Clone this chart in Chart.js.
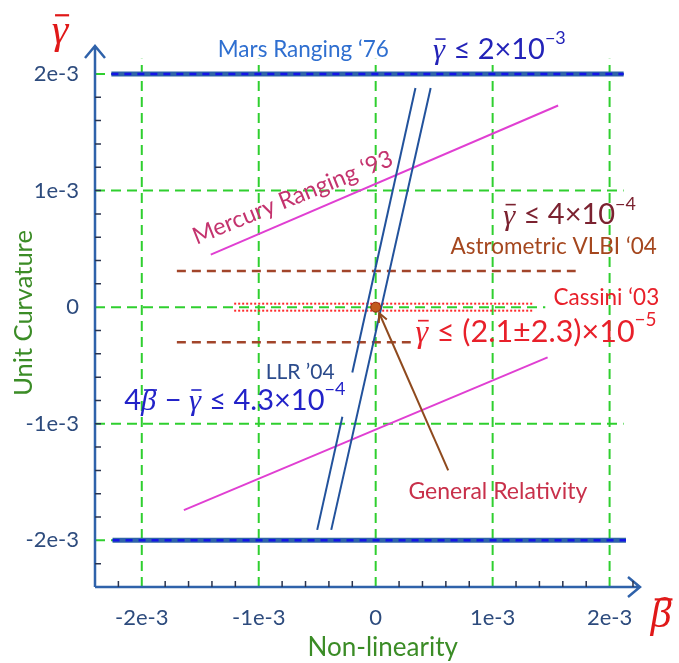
<!DOCTYPE html>
<html>
<head>
<meta charset="utf-8">
<script src="https://cdn.jsdelivr.net/npm/chart.js@4.4.1/dist/chart.umd.min.js"></script>
<style>
  html, body { margin: 0; padding: 0; background: #fff; }
  canvas { display: block; }
</style>
</head>
<body>
<canvas id="chart" width="679" height="663"></canvas>
<script>
// ── Data (all values in units of 1e-3) ────────────────────
const AXIS_TICKS   = [-2, -1, 0, 1, 2];
const TICK_LABELS  = ['-2e-3', '-1e-3', '0', '1e-3', '2e-3'];
const MINOR_X      = [-2.2, -1.8, -1.6, -1.4, -1.2, -0.8, -0.6, -0.4, -0.2, 0.2, 0.4, 0.6, 0.8, 1.2, 1.4, 1.6, 1.8, 2.2];
const MINOR_Y      = [-2.2, -1.8, -1.6, -1.4, -1.2, -1, -0.8, -0.6, -0.4, -0.2, 0.2, 0.4, 0.6, 0.8, 1, 1.2, 1.4, 1.6, 1.8];

const MARS_TOP     = [[-2.26, 2], [2.12, 2]];
const MARS_BOTTOM  = [[-2.25, -2], [2.14, -2]];
const MERCURY_UP   = [[-1.41, 0.45], [1.56, 1.73]];
const MERCURY_LOW  = [[-1.64, -1.74], [1.47, -0.43]];
const LLR_LEFT_A   = [[0.34, 1.88], [-0.20, -0.56]];
const LLR_LEFT_B   = [[-0.285, -0.94], [-0.50, -1.91]];
const LLR_RIGHT    = [[0.47, 1.88], [-0.38, -1.91]];
const VLBI_UP      = [[-1.70, 0.31], [1.71, 0.31]];
const VLBI_LOW     = [[-1.70, -0.30], [0.30, -0.30]];
const CASSINI_UP   = [[-1.21, 0.03], [1.35, 0.03]];
const CASSINI_LOW  = [[-1.21, -0.03], [1.35, -0.03]];
const GR_POINT     = [[0, 0]];
const GR_ARROW     = [[0.62, -1.40], [0.03, -0.05]];

// grid segments: [value, from, to]
const GRID_H = [[2, -2.4, 2.12], [1, -2.4, 2.12], [0, -2.4, 1.45], [-1, -2.4, 2.12], [-2, -2.4, 2.12]];
const GRID_V = [[-2, -2.4, 2.13], [-1, -2.4, 2.13], [0, -2.4, 2.13], [1, -2.4, 2.13], [2, -2.4, 2.13]];

// ── Colours ───────────────────────────────────────────────
const C = {
  grid:    '#2fcf2f',
  axis:    '#2f62aa',
  tick:    '#2d4b7d',
  mars:    '#2f64a8',
  marsDot: '#1414e6',
  mercury: '#e03fd2',
  llr:     '#22529c',
  vlbi:    '#a2452a',
  cassini: '#ff2a2a',
  arrow:   '#8f4a1e',
  title:   '#3b8c26',
  symbol:  '#e01818',
};

const SANS  = 'Lato, "Open Sans", sans-serif';
const SERIF = '"Liberation Serif", "DejaVu Serif", serif';

const pts = arr => arr.map(([x, y]) => ({ x, y }));

function line(data, color, width, dash, order) {
  return {
    data: pts(data), showLine: true, borderColor: color, borderWidth: width,
    borderDash: dash || [], pointRadius: 0, fill: false, order,
  };
}

// ── Text helpers ──────────────────────────────────────────
// parts: [text, kind]  kind: n = normal, g = greek italic with bar, s = superscript
function drawMath(ctx, parts, x, y, size, color) {
  ctx.save();
  ctx.fillStyle = color;
  ctx.strokeStyle = color;
  ctx.textBaseline = 'middle';
  ctx.textAlign = 'left';
  let cx = x;
  parts.forEach(([t, k]) => {
    if (k === 'g') {
      ctx.font = `italic ${size * 1.05}px ${SERIF}`;
      const w = ctx.measureText(t).width;
      ctx.fillText(t, cx, y + size * 0.06);
      ctx.lineWidth = Math.max(1.2, size / 18);
      ctx.beginPath();
      ctx.moveTo(cx + w * 0.2, y - size * 0.36);
      ctx.lineTo(cx + w * 1.05, y - size * 0.36);
      ctx.stroke();
      cx += w + 1;
    } else if (k === 's') {
      ctx.font = `${size * 0.62}px ${SANS}`;
      ctx.fillText(t, cx, y - size * 0.38);
      cx += ctx.measureText(t).width;
    } else {
      ctx.font = `${size}px ${SANS}`;
      ctx.fillText(t, cx, y);
      cx += ctx.measureText(t).width;
    }
  });
  ctx.restore();
}

function drawText(ctx, t, x, y, size, color, opts = {}) {
  ctx.save();
  ctx.translate(x, y);
  if (opts.rot) ctx.rotate(opts.rot * Math.PI / 180);
  ctx.font = `${opts.italic ? 'italic ' : ''}${size}px ${opts.font || SANS}`;
  ctx.fillStyle = color;
  ctx.textBaseline = 'middle';
  ctx.textAlign = opts.align || 'left';
  ctx.fillText(t, 0, 0);
  ctx.restore();
}

// ── Plugin: grid, axes with arrows, annotations ───────────
const decor = {
  id: 'decor',
  beforeDatasetsDraw(chart) {
    const { ctx, scales: { x, y } } = chart;
    ctx.save();
    // green dashed grid
    ctx.strokeStyle = C.grid;
    ctx.lineWidth = 2;
    ctx.setLineDash([10, 6]);
    GRID_H.forEach(([v, a, b]) => {
      ctx.beginPath();
      ctx.moveTo(x.getPixelForValue(a), y.getPixelForValue(v));
      ctx.lineTo(x.getPixelForValue(b), y.getPixelForValue(v));
      ctx.stroke();
    });
    GRID_V.forEach(([v, a, b]) => {
      ctx.beginPath();
      ctx.moveTo(x.getPixelForValue(v), y.getPixelForValue(a));
      ctx.lineTo(x.getPixelForValue(v), y.getPixelForValue(b));
      ctx.stroke();
    });
    ctx.setLineDash([]);

    // axes
    const x0 = x.getPixelForValue(x.min), y0 = y.getPixelForValue(y.min);
    const xr = x.getPixelForValue(x.max), yt = y.getPixelForValue(y.max);
    ctx.strokeStyle = C.axis;
    ctx.lineWidth = 2.5;
    ctx.beginPath();
    ctx.moveTo(x0, y0); ctx.lineTo(xr, y0);
    ctx.moveTo(x0, y0); ctx.lineTo(x0, yt);
    // arrow heads
    ctx.moveTo(xr - 12, y0 - 10); ctx.lineTo(xr, y0); ctx.lineTo(xr - 12, y0 + 10);
    ctx.moveTo(x0 - 10, yt + 12); ctx.lineTo(x0, yt); ctx.lineTo(x0 + 10, yt + 12);
    ctx.stroke();

    // minor ticks
    ctx.strokeStyle = '#2a3550';
    ctx.lineWidth = 1.5;
    ctx.beginPath();
    MINOR_X.forEach(v => {
      const px = x.getPixelForValue(v);
      ctx.moveTo(px, y0); ctx.lineTo(px, y0 - 6);
    });
    MINOR_Y.forEach(v => {
      const py = y.getPixelForValue(v);
      ctx.moveTo(x0, py); ctx.lineTo(x0 + 6, py);
    });
    ctx.stroke();
    ctx.restore();
  },
  afterDatasetsDraw(chart) {
    const { ctx, scales: { x, y } } = chart;
    const X = v => x.getPixelForValue(v), Y = v => y.getPixelForValue(v);

    // arrow head at GR point
    const [a, b] = GR_ARROW;
    const ax = X(b[0]), ay = Y(b[1]);
    const ang = Math.atan2(ay - Y(a[1]), ax - X(a[0]));
    ctx.save();
    ctx.strokeStyle = C.arrow;
    ctx.lineWidth = 2;
    ctx.beginPath();
    ctx.moveTo(ax - 10 * Math.cos(ang - 0.45), ay - 10 * Math.sin(ang - 0.45));
    ctx.lineTo(ax, ay);
    ctx.lineTo(ax - 10 * Math.cos(ang + 0.45), ay - 10 * Math.sin(ang + 0.45));
    ctx.stroke();
    ctx.restore();

    // labels
    drawText(ctx, 'Mars Ranging \u201876', X(-1.35), Y(2.21), 22.5, '#2f6fd0');
    drawMath(ctx, [['\u03b3', 'g'], [' \u2264 2\u00d710', 'n'], ['\u22123', 's']], X(0.49), Y(2.21), 29, '#2323b8');
    drawText(ctx, 'Mercury Ranging \u201893', X(-0.71), Y(0.94), 23.5, '#c4336e', { rot: -22, align: 'center' });
    drawMath(ctx, [['\u03b3', 'g'], [' \u2264 4\u00d710', 'n'], ['\u22124', 's']], X(1.09), Y(0.79), 29, '#7b2230');
    drawText(ctx, 'Astrometric VLBI \u201804', X(0.64), Y(0.52), 22.5, '#a5471e');
    drawText(ctx, 'Cassini \u201803', X(1.52), Y(0.085), 22.5, '#e8202a');
    drawMath(ctx, [['\u03b3', 'g'], [' \u2264 (2.1\u00b12.3)\u00d710', 'n'], ['\u22125', 's']], X(0.34), Y(-0.21), 30.5, '#e8202a');
    drawText(ctx, 'LLR \u201904', X(-0.94), Y(-0.56), 21, '#2b4b8c');
    drawMath(ctx, [['4', 'n'], ['\u03b2', 'g'], [' \u2212 ', 'n'], ['\u03b3', 'g'], [' \u2264 4.3\u00d710', 'n'], ['\u22124', 's']], X(-2.15), Y(-0.80), 29, '#2222c8');
    drawText(ctx, 'General Relativity', X(0.28), Y(-1.58), 23, '#c8304a');

    // axis titles and symbols
    drawText(ctx, 'Unit Curvature', X(-3.01), Y(-0.05), 25.5, C.title, { rot: -90, align: 'center' });
    drawText(ctx, 'Non-linearity', X(0.06), Y(-2.92), 26, C.title, { align: 'center' });
    drawMath(ctx, [['\u03b3', 'g']], X(-2.77), Y(2.38), 40, C.symbol);
    drawMath(ctx, [['\u03b2', 'g']], X(2.35), Y(-2.63), 40, C.symbol);
  },
};

// ── Chart ─────────────────────────────────────────────────
const tickFont = { family: 'Lato, "Open Sans", sans-serif', size: 22 };

new Chart(document.getElementById('chart').getContext('2d'), {
  type: 'scatter',
  data: {
    datasets: [
      line(MARS_TOP, C.mars, 5, null, 20),
      line(MARS_TOP, C.marsDot, 2.5, [7, 6], 19),
      line(MARS_BOTTOM, C.mars, 5, null, 20),
      line(MARS_BOTTOM, C.marsDot, 2.5, [7, 6], 19),
      line(MERCURY_UP, C.mercury, 2, null, 10),
      line(MERCURY_LOW, C.mercury, 2, null, 10),
      line(VLBI_UP, C.vlbi, 2.5, [9, 6], 10),
      line(VLBI_LOW, C.vlbi, 2.5, [9, 6], 10),
      line(CASSINI_UP, C.cassini, 2, [2, 2], 9),
      line(CASSINI_LOW, C.cassini, 2, [2, 2], 9),
      line(LLR_LEFT_A, C.llr, 2, null, 8),
      line(LLR_LEFT_B, C.llr, 2, null, 8),
      line(LLR_RIGHT, C.llr, 2, null, 8),
      line(GR_ARROW, C.arrow, 2, null, 7),
      {
        data: pts(GR_POINT), pointRadius: 5, pointBackgroundColor: '#c25a1c',
        pointBorderColor: '#8b2a10', pointBorderWidth: 1, order: 1,
      },
    ],
  },
  options: {
    responsive: false,
    animation: false,
    devicePixelRatio: 1,
    layout: { padding: { left: 0, right: 39, top: 46, bottom: 0 } },
    plugins: { legend: { display: false }, tooltip: { enabled: false } },
    scales: {
      x: {
        type: 'linear', min: -2.4, max: 2.26,
        afterBuildTicks: s => { s.ticks = AXIS_TICKS.map(v => ({ value: v })); },
        afterFit: s => { s.height = 76; },
        grid: { display: false, drawTicks: false },
        border: { display: false },
        ticks: { padding: 18, color: C.tick, font: tickFont, callback: (v, i) => TICK_LABELS[i] },
      },
      y: {
        type: 'linear', min: -2.4, max: 2.24,
        afterBuildTicks: s => { s.ticks = AXIS_TICKS.map(v => ({ value: v })); },
        afterFit: s => { s.width = 95; },
        grid: { display: false, drawTicks: false },
        border: { display: false },
        ticks: { padding: 16, color: C.tick, font: tickFont, callback: (v, i) => TICK_LABELS[i] },
      },
    },
  },
  plugins: [decor],
});
</script>
</body>
</html>
